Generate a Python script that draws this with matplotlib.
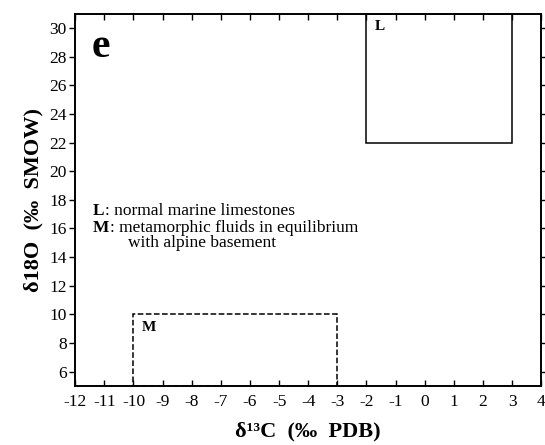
import matplotlib.pyplot as plt
from matplotlib.patches import Rectangle

plt.rcParams['font.family'] = ['Liberation Serif', 'DejaVu Serif']

# fields: label, x range, y range, line style
labels = ["L", "M"]
x_lo = [-2, -10]
x_hi = [3, -3]
y_lo = [22, 5]
y_hi = [31, 10]
styles = ["-", "--"]

descr = ["normal marine limestones",
         "metamorphic fluids in equilibrium"]
descr_extra = "with alpine basement"

xticks = list(range(-12, 5))
yticks = list(range(6, 31, 2))

fig = plt.figure(figsize=(5.45, 4.45), dpi=100)
ax = fig.add_axes([0.138, 0.133, 0.855, 0.836])

for lab, a, b, c, d, ls in zip(labels, x_lo, x_hi, y_lo, y_hi, styles):
    ax.add_patch(Rectangle((a, c), b - a, d - c, fill=False, lw=1.1,
                           ls=ls, ec="black"))
    ax.text(a + 0.3, d - 0.45, lab, fontsize=11, fontweight="bold",
            va="top", ha="left")

ax.set_xlim(-12, 4)
ax.set_ylim(5, 31)
ax.set_xticks(xticks)
ax.set_xticklabels([str(t) for t in xticks])
ax.set_yticks(yticks)
ax.tick_params(axis="both", labelsize=12.5, length=4, width=1)
ax.tick_params(axis="x", direction="in", top=True, pad=6)
ax.tick_params(axis="y", direction="out", right=True, pad=2)
for s in ax.spines.values():
    s.set_linewidth(1.4)

ax.text(-11.45, 28.7, "e", fontsize=30, fontweight="bold", va="center")

# legend text
ax.text(-11.4, 17.2, "L", fontsize=12.5, fontweight="bold", va="center")
ax.text(-10.98, 17.2, ": " + descr[0], fontsize=12.5, va="center")
ax.text(-11.4, 16.0, "M", fontsize=12.5, fontweight="bold", va="center")
ax.text(-10.82, 16.0, ": " + descr[1], fontsize=12.5, va="center")
ax.text(-10.2, 14.95, descr_extra, fontsize=12.5, va="center")

ax.set_xlabel("δ¹³C  (‰  PDB)", fontsize=16, fontweight="bold", labelpad=8)
ax.set_ylabel("δ18O  (‰  SMOW)", fontsize=16, fontweight="bold", labelpad=4)

fig.savefig("out.png", dpi=100)
